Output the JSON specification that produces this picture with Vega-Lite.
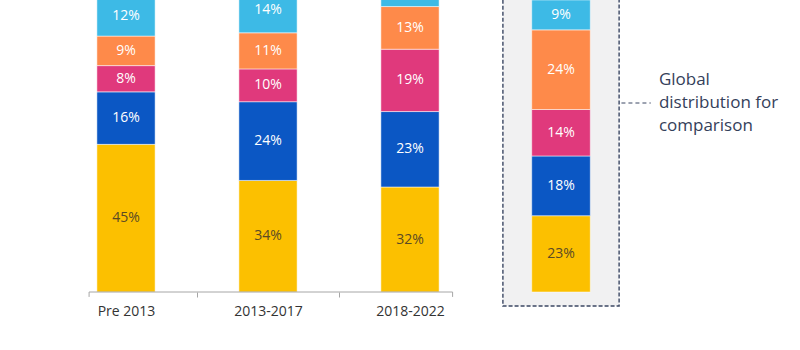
{
  "$schema": "https://vega.github.io/schema/vega-lite/v6.json",
  "padding": {"left": 55, "top": 0, "right": 0, "bottom": 0},
  "config": {"view": {"stroke": null}, "font": "Open Sans", "concat": {"spacing": 18}},
  "datasets": {
    "periods": [
      {"period": "Pre 2013", "seg": "Segment 1", "o": 1, "v": 0.45},
      {"period": "Pre 2013", "seg": "Segment 2", "o": 2, "v": 0.16},
      {"period": "Pre 2013", "seg": "Segment 3", "o": 3, "v": 0.08},
      {"period": "Pre 2013", "seg": "Segment 4", "o": 4, "v": 0.09},
      {"period": "Pre 2013", "seg": "Segment 5", "o": 5, "v": 0.12},
      {"period": "2013-2017", "seg": "Segment 1", "o": 1, "v": 0.34},
      {"period": "2013-2017", "seg": "Segment 2", "o": 2, "v": 0.24},
      {"period": "2013-2017", "seg": "Segment 3", "o": 3, "v": 0.10},
      {"period": "2013-2017", "seg": "Segment 4", "o": 4, "v": 0.11},
      {"period": "2013-2017", "seg": "Segment 5", "o": 5, "v": 0.14},
      {"period": "2018-2022", "seg": "Segment 1", "o": 1, "v": 0.32},
      {"period": "2018-2022", "seg": "Segment 2", "o": 2, "v": 0.23},
      {"period": "2018-2022", "seg": "Segment 3", "o": 3, "v": 0.19},
      {"period": "2018-2022", "seg": "Segment 4", "o": 4, "v": 0.13},
      {"period": "2018-2022", "seg": "Segment 5", "o": 5, "v": 0.08}
    ],
    "global": [
      {"period": "Global", "seg": "Segment 1", "o": 1, "v": 0.23},
      {"period": "Global", "seg": "Segment 2", "o": 2, "v": 0.18},
      {"period": "Global", "seg": "Segment 3", "o": 3, "v": 0.14},
      {"period": "Global", "seg": "Segment 4", "o": 4, "v": 0.24},
      {"period": "Global", "seg": "Segment 5", "o": 5, "v": 0.09}
    ],
    "axisline": [{"a": "Pre 2013", "b": "2018-2022"}],
    "box": [{"period": "Global", "y": -0.0422, "y2": 0.95}],
    "note": [{"from": "Global", "period": "note", "y": 0.5696, "t": "Global\ndistribution for\ncomparison"}]
  },
  "resolve": {"scale": {"x": "independent", "y": "independent"}},
  "hconcat": [
    {
      "width": 426,
      "height": 292,
      "encoding": {
        "x": {"field": "period", "type": "nominal", "sort": null,
          "scale": {"domain": ["Pre 2013", "2013-2017", "2018-2022"], "paddingInner": 0, "paddingOuter": 0},
          "axis": {"title": null, "labelAngle": 0, "domain": false, "tickBand": "extent", "tickColor": "#a6a6a6", "tickSize": 5,
            "tickOpacity": {"condition": {"test": "datum.extra || datum.value === '2018-2022'", "value": 0}, "value": 1},
            "labelFontSize": 14, "labelColor": "#333333", "labelPadding": 7}}
      },
      "layer": [
        {
          "data": {"name": "periods"},
          "mark": {"type": "bar", "width": {"band": 0.41}, "clip": true, "stroke": "white", "strokeWidth": 0.5},
          "encoding": {
            "y": {"field": "v", "type": "quantitative", "stack": "zero", "scale": {"domain": [0, 0.89], "nice": false}, "axis": null},
            "color": {"field": "seg", "type": "nominal", "legend": null,
              "scale": {"domain": ["Segment 1", "Segment 2", "Segment 3", "Segment 4", "Segment 5"], "range": ["#fcc000", "#0b57c4", "#e0397c", "#fe8a4a", "#3dbae6"]}},
            "order": {"field": "o", "type": "quantitative"}
          }
        },
        {
          "data": {"name": "periods"},
          "transform": [{"filter": "!(datum.period === '2018-2022' && datum.o === 5)"}],
          "mark": {"type": "text", "clip": true, "fontSize": 14},
          "encoding": {
            "y": {"field": "v", "type": "quantitative", "stack": "zero", "bandPosition": 0.5},
            "order": {"field": "o", "type": "quantitative"},
            "text": {"field": "v", "type": "quantitative", "format": ".0%"},
            "color": {"condition": {"test": "datum.o === 1", "value": "#5a4a25"}, "value": "#ffffff"}
          }
        },
        {
          "data": {"name": "axisline"},
          "mark": {"type": "rule", "color": "#a6a6a6", "strokeWidth": 1},
          "encoding": {
            "x": {"field": "a", "type": "nominal", "bandPosition": 0.24},
            "x2": {"field": "b", "bandPosition": 0.8},
            "y": {"datum": 0}
          }
        },
        {
          "data": {"name": "axisline"},
          "mark": {"type": "rule", "color": "#a6a6a6", "strokeWidth": 1},
          "encoding": {
            "x": {"field": "a", "type": "nominal", "bandPosition": 0.24},
            "y": {"datum": 0},
            "y2": {"datum": -0.015}
          }
        },
        {
          "data": {"name": "axisline"},
          "mark": {"type": "rule", "color": "#a6a6a6", "strokeWidth": 1},
          "encoding": {
            "x": {"field": "b", "type": "nominal", "bandPosition": 0.8},
            "y": {"datum": 0},
            "y2": {"datum": -0.015}
          }
        }
      ]
    },
    {
      "width": 280,
      "height": 310,
      "layer": [
        {
          "data": {"name": "box"},
          "mark": {"type": "bar", "clip": true, "fill": "#f1f1f2", "stroke": "#3b4763", "strokeWidth": 1.4, "strokeDash": [4, 2]},
          "encoding": {
            "x": {"field": "period", "type": "nominal", "scale": {"domain": ["Global", "note"], "paddingInner": 0.255, "paddingOuter": 0.025}, "axis": null},
            "y": {"field": "y", "type": "quantitative", "scale": {"domain": [-0.0542, 0.88], "nice": false}, "axis": null},
            "y2": {"field": "y2"}
          }
        },
        {
          "data": {"name": "global"},
          "mark": {"type": "bar", "width": {"band": 0.504}, "clip": true, "stroke": "white", "strokeWidth": 0.5},
          "encoding": {
            "x": {"field": "period", "type": "nominal"},
            "y": {"field": "v", "type": "quantitative", "stack": "zero"},
            "color": {"field": "seg", "type": "nominal", "legend": null},
            "order": {"field": "o", "type": "quantitative"}
          }
        },
        {
          "data": {"name": "global"},
          "mark": {"type": "text", "clip": true, "fontSize": 14},
          "encoding": {
            "x": {"field": "period", "type": "nominal"},
            "y": {"field": "v", "type": "quantitative", "stack": "zero", "bandPosition": 0.5},
            "order": {"field": "o", "type": "quantitative"},
            "text": {"field": "v", "type": "quantitative", "format": ".0%"},
            "color": {"condition": {"test": "datum.o === 1", "value": "#5a4a25"}, "value": "#ffffff"}
          }
        },
        {
          "data": {"name": "note"},
          "mark": {"type": "rule", "color": "#3b4763", "strokeWidth": 1, "strokeDash": [4, 3]},
          "encoding": {
            "x": {"field": "from", "type": "nominal", "bandPosition": 1.02},
            "x2": {"field": "period", "bandPosition": -0.07},
            "y": {"field": "y", "type": "quantitative"}
          }
        },
        {
          "data": {"name": "note"},
          "mark": {"type": "text", "align": "left", "baseline": "middle", "dy": -23, "fontSize": 17, "lineHeight": 23, "lineBreak": "\n", "color": "#34405a"},
          "encoding": {
            "x": {"field": "period", "type": "nominal", "bandPosition": 0},
            "y": {"field": "y", "type": "quantitative"},
            "text": {"field": "t"}
          }
        }
      ]
    }
  ]
}
